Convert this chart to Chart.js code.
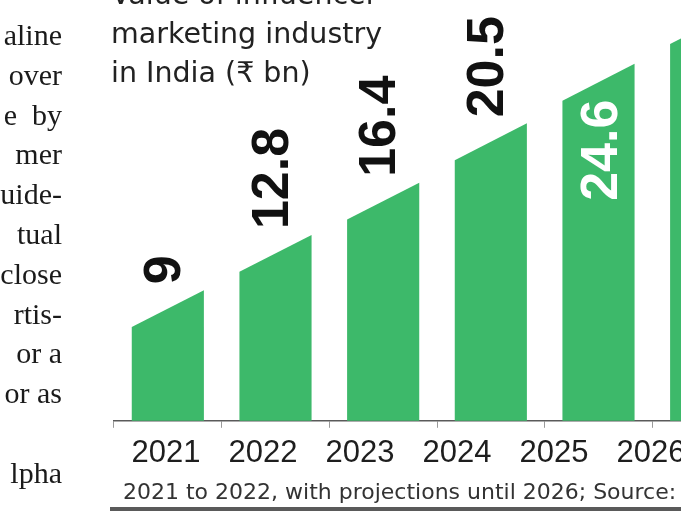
<!DOCTYPE html>
<html>
<head>
<meta charset="utf-8">
<script src="https://cdn.jsdelivr.net/npm/chart.js@4.4.1/dist/chart.umd.min.js"></script>
<style>
    html, body { margin: 0; padding: 0; background: #fff; overflow: hidden; width: 681px; height: 511px; }
    #wrap { position: relative; width: 681px; height: 511px; overflow: hidden; }
    #chart { position: absolute; left: 0; top: 0; }
    .article { position: absolute; left: -100px; top: 15px; width: 162px; text-align: right;
        font-family: "Liberation Serif", serif; font-size: 30px; line-height: 39.8px; color: #1a1a1a; white-space: pre; }
    .title { position: absolute; left: 111px; top: -25px; font-family: "DejaVu Sans", sans-serif;
        font-size: 28.5px; line-height: 39px; color: #222; white-space: nowrap; }
    .note { position: absolute; left: 123px; top: 478px; font-family: "DejaVu Sans", sans-serif;
        font-size: 22px; line-height: 28px; color: #333; white-space: nowrap; }
    .rule { position: absolute; left: 110px; top: 507px; width: 600px; height: 4px; background: #5a5a5a; }
</style>
</head>
<body>
<div id="wrap">
    <canvas id="chart" width="760" height="511"></canvas>
    <div class="article">aline
over
e  by
mer
uide-
tual
close
rtis-
or a
or as

lpha</div>
    <div class="title">Value of influencer<br>marketing industry<br>in India (₹ bn)</div>
    <div class="note">2021 to 2022, with projections until 2026; Source:</div>
    <div class="rule"></div>
</div>
<script>
// Werte aus der Grafik (₹ bn)
const years = ['2021', '2022', '2023', '2024', '2025', '2026'];
const values = [9, 12.8, 16.4, 20.5, 24.6, 28.5];

const barGreen = '#3db96a';

// Balken mit schräger Oberkante zeichnen
const slantedBars = {
    id: 'slantedBars',
    afterDatasetsDraw(chart) {
        const ctx = chart.ctx;
        const meta = chart.getDatasetMeta(0);
        ctx.save();
        ctx.fillStyle = barGreen;
        meta.data.forEach(bar => {
            const half = bar.width / 2;
            const slant = bar.width * 0.51;
            ctx.beginPath();
            ctx.moveTo(bar.x - half, bar.base);
            ctx.lineTo(bar.x - half, bar.y + slant);
            ctx.lineTo(bar.x + half, bar.y);
            ctx.lineTo(bar.x + half, bar.base);
            ctx.closePath();
            ctx.fill();
        });

        // Wertebeschriftung, um 90° gedreht
        ctx.font = 'bold 52px "Liberation Sans", Arial, sans-serif';
        ctx.textBaseline = 'alphabetic';
        meta.data.forEach((bar, i) => {
            const txt = String(values[i]);
            const w = ctx.measureText(txt).width;
            const slant = bar.width * 0.51;
            ctx.save();
            if (bar.y - 8 - w < 0) {
                // kein Platz oben -> weiß im Balken
                ctx.fillStyle = '#ffffff';
                ctx.translate(bar.x + 18, bar.y + slant - 1);
                ctx.rotate(-Math.PI / 2);
                ctx.textAlign = 'right';
            } else {
                ctx.fillStyle = '#111111';
                ctx.translate(bar.x + 12, bar.y - 6);
                ctx.rotate(-Math.PI / 2);
                ctx.textAlign = 'left';
            }
            ctx.fillText(txt, 0, 0);
            ctx.restore();
        });
        ctx.restore();
    }
};

new Chart(document.getElementById('chart').getContext('2d'), {
    type: 'bar',
    data: {
        labels: years,
        datasets: [{
            data: values,
            backgroundColor: 'rgba(0,0,0,0)',
            borderWidth: 0,
            barPercentage: 1,
            categoryPercentage: 0.67
        }]
    },
    options: {
        responsive: false,
        animation: false,
        devicePixelRatio: 1,
        layout: { padding: { left: 114, right: 0, top: 0, bottom: 32 } },
        plugins: {
            legend: { display: false },
            tooltip: { enabled: false }
        },
        scales: {
            x: {
                type: 'category',
                offset: true,
                grid: { display: true, drawOnChartArea: false, drawTicks: true, tickLength: 7, color: '#9a9a9a', lineWidth: 1 },
                border: { display: true, color: '#5a5a5a', width: 1.5 },
                ticks: { display: false }
            },
            // Jahresbeschriftung, leicht versetzt zu den Balken wie im Original
            x2: {
                type: 'linear',
                position: 'bottom',
                weight: 1,
                offset: false,
                min: -0.536,
                max: 6.124,
                grid: { display: false, drawTicks: false, offset: false },
                border: { display: false },
                ticks: {
                    stepSize: 1,
                    includeBounds: false,
                    autoSkip: false,
                    maxRotation: 0,
                    padding: 7,
                    color: '#1e1e1e',
                    font: { family: '"Liberation Sans", Arial, sans-serif', size: 31 },
                    callback: v => (Number.isInteger(v) && years[v]) ? years[v] : ''
                }
            },
            y: {
                display: false,
                min: 0,
                max: 29
            }
        }
    },
    plugins: [slantedBars]
});
</script>
</body>
</html>
